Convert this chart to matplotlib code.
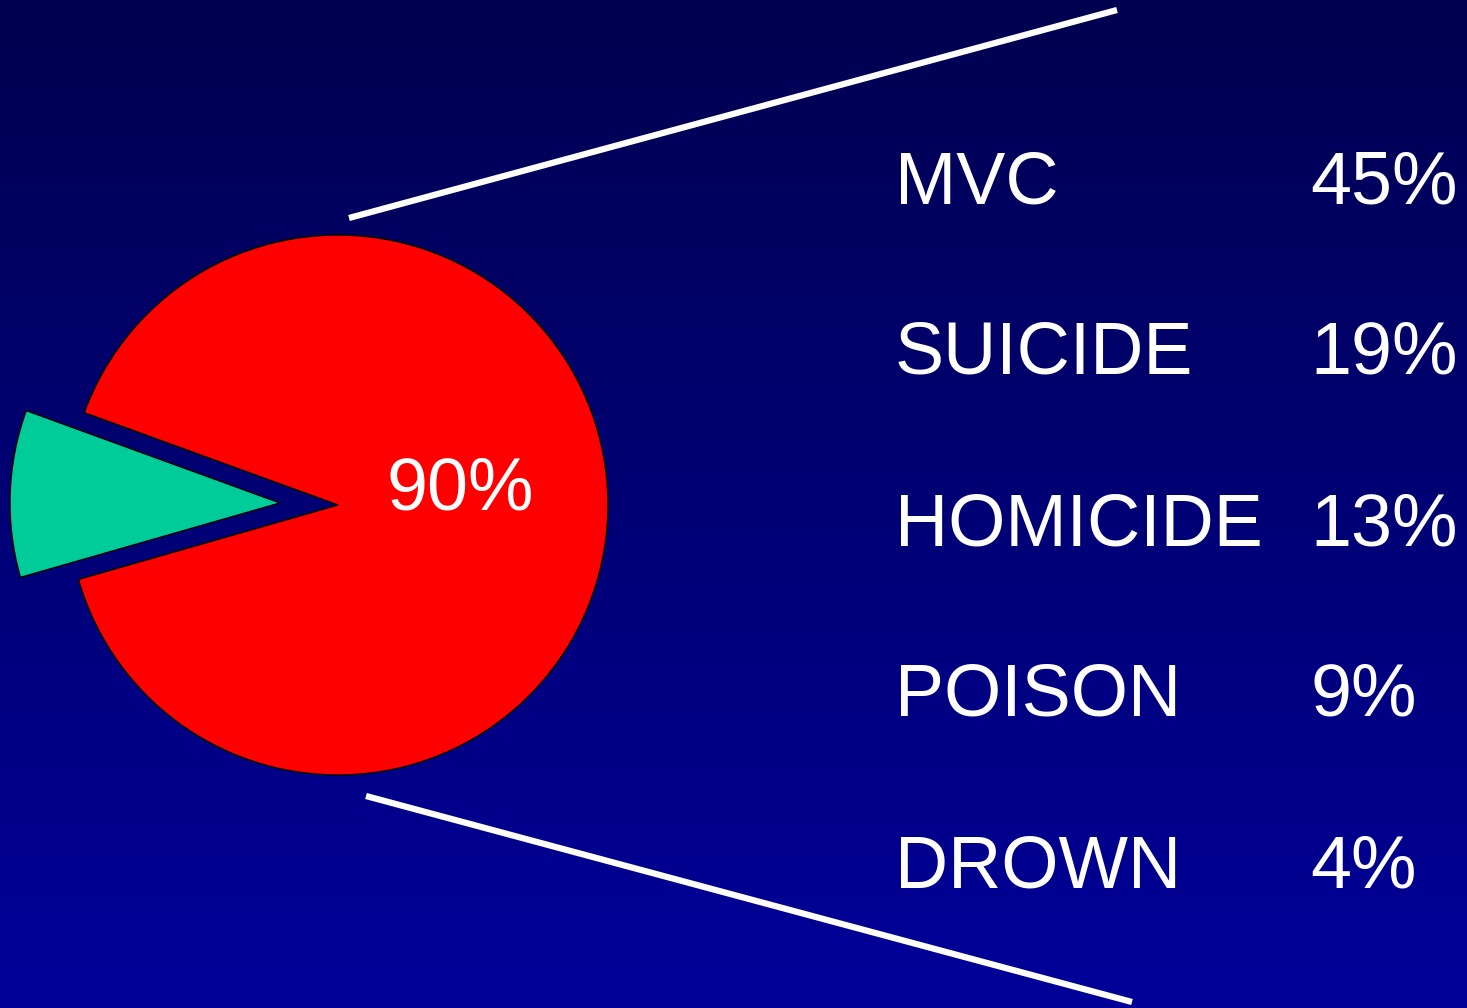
import numpy as np
import matplotlib
matplotlib.use("Agg")
import matplotlib.pyplot as plt
from matplotlib.colors import LinearSegmentedColormap

# Data
pie_labels = ["Other", "Injury"]
pie_values = [10, 90]
pie_colors = ["#00cc99", "#ff0000"]
pie_explode = [0.215, 0.0]   # fraction of radius
center_label = "90%"

causes = ["MVC", "SUICIDE", "HOMICIDE", "POISON", "DROWN"]
cause_pcts = ["45%", "19%", "13%", "9%", "4%"]

W, H = 1467, 1008
fig = plt.figure(figsize=(W / 100, H / 100), dpi=100)
ax = fig.add_axes([0, 0, 1, 1])

# Background gradient (top dark navy -> bottom blue)
cmap = LinearSegmentedColormap.from_list("bg", ["#000099", "#000050"])
grad = np.linspace(0, 1, 256).reshape(-1, 1)
ax.imshow(grad, extent=[0, W, 0, H], origin="lower", cmap=cmap, aspect="auto", zorder=0)

# Pie
cx, cy, r = 338, H - 505, 270
wedges, _ = ax.pie(pie_values, colors=pie_colors,
                   explode=[e * r for e in pie_explode], startangle=160,
                   center=(cx, cy), radius=r, counterclock=True,
                   wedgeprops=dict(edgecolor="black", linewidth=1.0))
for w in wedges:
    w.set_zorder(2)
ax.set_xlim(0, W)
ax.set_ylim(0, H)
ax.set_aspect("auto")
ax.axis("off")

ax.text(387, H - 510, center_label, color="white", fontsize=53, family="Liberation Sans",
        ha="left", va="baseline", zorder=3)

# Connector lines
ax.plot([349, 1117], [H - 218, H - 10], color="white", lw=4.5, solid_capstyle="butt", zorder=3)
ax.plot([366, 1132], [H - 796, H - 1002], color="white", lw=4.5, solid_capstyle="butt", zorder=3)

# Breakdown list
baselines = [203, 374, 545, 716, 887]
for name, pct, b in zip(causes, cause_pcts, baselines):
    ax.text(895, H - b, name, color="white", fontsize=53, family="Liberation Sans",
            ha="left", va="baseline", zorder=3)
    ax.text(1310, H - b, pct, color="white", fontsize=53, family="Liberation Sans",
            ha="left", va="baseline", zorder=3)

fig.savefig("out.png", dpi=100)
